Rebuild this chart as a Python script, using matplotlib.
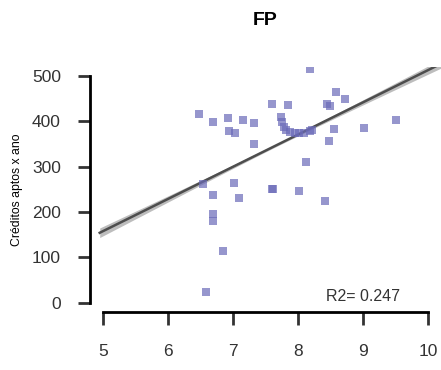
import numpy as np
import matplotlib
matplotlib.use("Agg")
import matplotlib.pyplot as plt

plt.rcParams['font.family'] = ['Liberation Sans', 'DejaVu Sans']

# notas (x) e créditos aptos por ano (y)
nota = [8.18, 6.47, 6.69, 6.92, 6.94, 7.03, 7.16, 7.33, 7.33, 7.60,
        7.85, 7.74, 7.76, 7.78, 7.82, 7.88, 7.95, 8.02, 8.10, 8.18,
        8.22, 8.13, 8.44, 8.50, 8.59, 8.72, 8.56, 8.48, 9.01, 9.51,
        6.54, 6.69, 6.69, 6.69, 6.85, 6.59, 7.02, 7.10, 7.60, 7.61,
        8.01, 8.42]
creditos = [516, 417, 398, 408, 378, 374, 402, 396, 350, 439,
            436, 410, 398, 388, 380, 376, 375, 374, 375, 378,
            380, 310, 439, 435, 465, 450, 384, 356, 386, 402,
            263, 238, 195, 180, 115, 24, 265, 232, 252, 250,
            247, 224]

# reta de regressão
intercepto = -197
inclinacao = 71

r2_txt = "R2= 0.247"

x = np.array(nota)
y = np.array(creditos)

# banda de confiança em torno da reta
n = len(x)
res = y - (intercepto + inclinacao * x)
s = np.sqrt(np.sum(res**2) / (n - 2))
xx = np.linspace(4.95, 10.3, 100)
yy = intercepto + inclinacao * xx
se = s * np.sqrt(1 / n + (xx - x.mean())**2 / np.sum((x - x.mean())**2))

fig = plt.figure(figsize=(4.41, 3.70), dpi=100)
ax = fig.add_axes([0.204, 0.157, 0.796, 0.662])

ax.fill_between(xx, yy - 0.2 * se, yy + 0.2 * se, color='#bdbdbd', lw=0)
ax.plot(xx, yy, color='#4d4d4d', lw=1.8)
ax.scatter(x, y, marker='s', s=40, color='#6a6ab8', alpha=0.7, lw=0, zorder=3)

ax.set_xlim(4.8, 10.2)
ax.set_ylim(-20, 520)
ax.set_xticks([5, 6, 7, 8, 9, 10])
ax.set_yticks([0, 100, 200, 300, 400, 500])

for side in ['top', 'right']:
    ax.spines[side].set_visible(False)
ax.spines['left'].set_bounds(0, 500)
ax.spines['bottom'].set_bounds(5, 10)
ax.spines['left'].set_linewidth(2)
ax.spines['bottom'].set_linewidth(2)
ax.tick_params(axis='both', length=9, width=2, labelsize=12.5, colors='#333333')
ax.tick_params(axis='y', pad=12)
ax.tick_params(axis='x', pad=14)

ax.set_ylabel("Créditos aptos x ano", fontsize=8.8, labelpad=6)
ax.set_title("FP", fontsize=14, fontweight='bold', pad=30)
ax.text(9.0, 13, r2_txt, fontsize=11.5, ha='center', va='center', color='#333333')

fig.savefig("out.png", dpi=100)
